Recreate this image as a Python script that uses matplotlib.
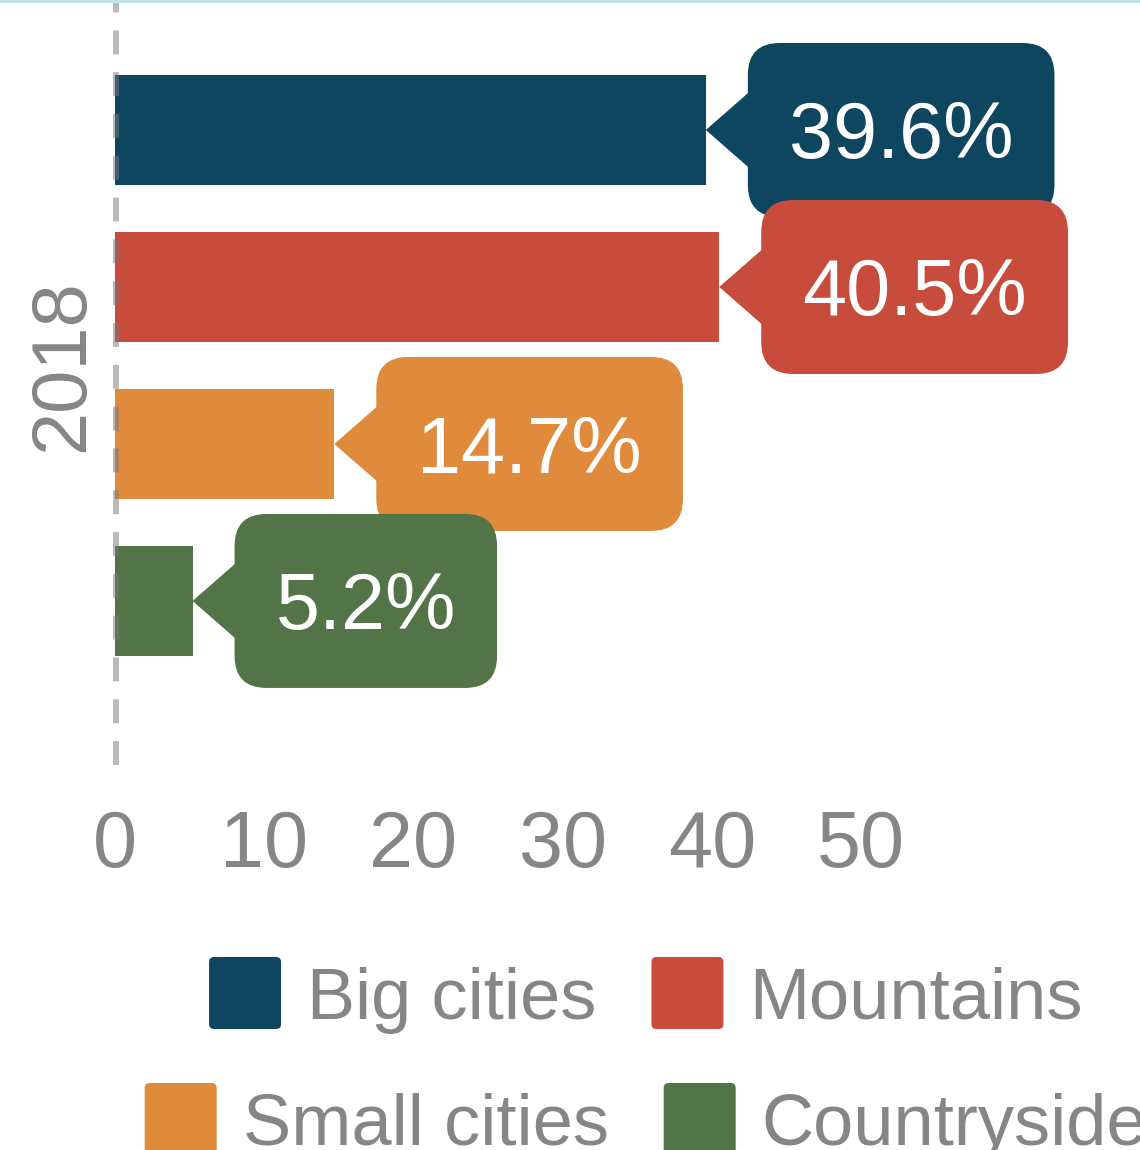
import matplotlib
matplotlib.use("Agg")
import matplotlib.pyplot as plt
from matplotlib.patches import FancyBboxPatch, Polygon, Rectangle
from matplotlib.transforms import IdentityTransform, blended_transform_factory

# data
categories = ["Big cities", "Mountains", "Small cities", "Countryside"]
shares = [39.6, 40.5, 14.7, 5.2]
share_labels = ["39.6%", "40.5%", "14.7%", "5.2%"]
colors = ["#0E465F", "#C84C3B", "#E08A3B", "#537447"]
year_label = "2018"
x_ticks = [0, 10, 20, 30, 40, 50]

GRAY = "#868686"
W, H = 1140, 1150


def _px_cap(size_pt):
    # cap height of Liberation Sans in pixels at dpi 100
    return 0.716 * size_pt * 100 / 72


def main():
    plt.rcParams["font.family"] = ["Liberation Sans", "DejaVu Sans"]

    fig = plt.figure(figsize=(W / 100, H / 100), dpi=100)
    ax = fig.add_axes([115 / W, 1 - 765 / H, (W - 115) / W, 765 / H])
    ident = IdentityTransform()

    ypos = list(range(len(categories)))
    ax.barh(ypos, shares, height=0.7, color=colors, zorder=1)
    ax.axvline(0.1, color="#777777", alpha=0.5, lw=4.3, dashes=(4, 3),
               dash_capstyle="butt", zorder=2, clip_on=False)

    ax.set_xlim(0, 1025 / 14.92)
    ax.set_ylim(4.045, -0.828)
    ax.set_xticks(x_ticks)
    ax.set_xticklabels([str(t) for t in x_ticks])
    ax.set_yticks([])
    ax.tick_params(axis="x", length=0, pad=32, labelsize=57, labelcolor=GRAY)
    for s in ax.spines.values():
        s.set_visible(False)

    ax.text(-52 / 1025, 1.5, year_label, rotation=90, ha="center", va="center",
            fontsize=56, color=GRAY,
            transform=blended_transform_factory(ax.transAxes, ax.transData))

    # value bubbles
    renderer = fig.canvas.get_renderer()
    fs = 57
    cap = _px_cap(fs)
    for i, (val, lab, col) in enumerate(zip(shares, share_labels, colors)):
        tx, ty = ax.transData.transform((val, ypos[i]))
        t = ax.text(0, ty - cap / 2, lab, transform=ident, ha="center", va="baseline",
                    fontsize=fs, color="white", zorder=11 + 2 * i)
        tw = t.get_window_extent(renderer).width
        bx0 = tx + 42
        bw = tw + 82
        box = FancyBboxPatch((bx0, ty - 87), bw, 174,
                             boxstyle="round,pad=0,rounding_size=32",
                             transform=ident, fc=col, ec="none", zorder=10 + 2 * i,
                             clip_on=False)
        tri = Polygon([(tx, ty), (bx0 + 6, ty + 42), (bx0 + 6, ty - 42)],
                      closed=True, transform=ident, fc=col, ec="none",
                      zorder=10 + 2 * i, clip_on=False)
        ax.add_patch(box)
        ax.add_patch(tri)
        t.set_x(bx0 + bw / 2)

    # legend, two centred rows
    lfs = 52
    lcap = _px_cap(lfs)
    rows = [[0, 1], [2, 3]]
    row_centres = [H - 993, H - 1119]
    sq, gap_txt, gap_item = 72, 26, 55
    for row, yc in zip(rows, row_centres):
        texts = []
        widths = []
        for k in row:
            t = fig.text(0, yc - lcap / 2, categories[k], transform=ident,
                         ha="left", va="baseline", fontsize=lfs, color=GRAY)
            texts.append(t)
            widths.append(t.get_window_extent(renderer).width)
        total = sum(sq + gap_txt + w for w in widths) + gap_item * (len(row) - 1)
        x = 646 - total / 2
        for k, t, w in zip(row, texts, widths):
            fig.add_artist(FancyBboxPatch((x, yc - sq / 2), sq, sq,
                                          boxstyle="round,pad=0,rounding_size=5",
                                          transform=ident, fc=colors[k], ec="none"))
            t.set_x(x + sq + gap_txt)
            x += sq + gap_txt + w + gap_item

    # thin top border
    fig.add_artist(Rectangle((0, 1 - 3 / H), 1, 3 / H, transform=fig.transFigure,
                             fc="#BFE3E6", ec="none"))

    fig.savefig("out.png", dpi=100)


if __name__ == "__main__":
    main()
